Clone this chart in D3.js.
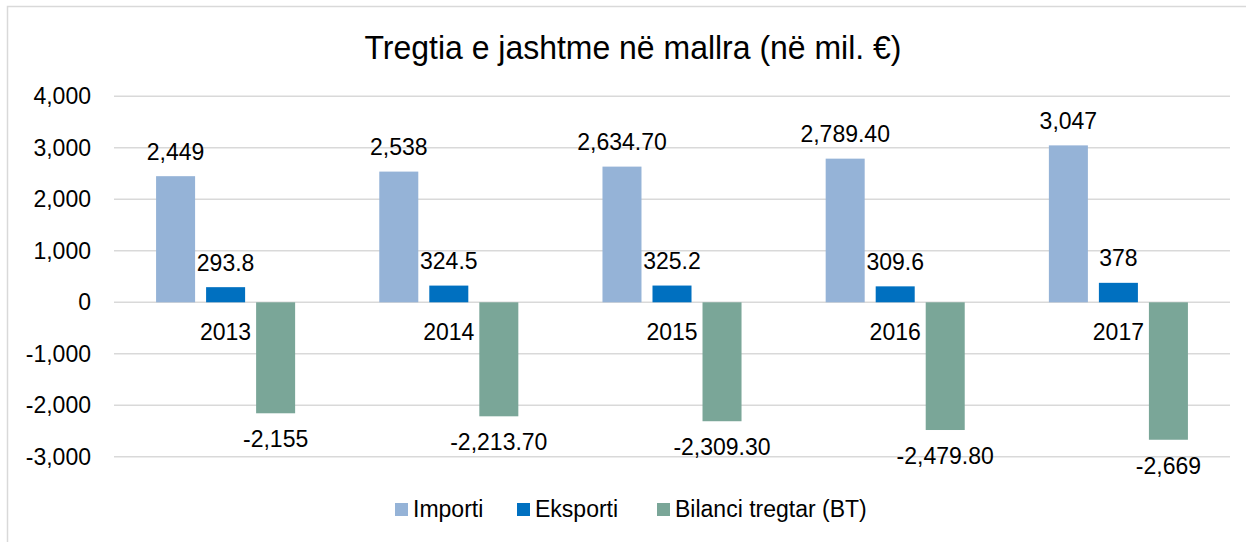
<!DOCTYPE html>
<html>
<head>
<meta charset="utf-8">
<script src="https://cdn.jsdelivr.net/npm/d3@7"></script>
<style>
  body { margin: 0; background: #fff; }
  text { font-family: "Liberation Sans", Arial, sans-serif; fill: #000; }
</style>
</head>
<body>
<div id="chart"></div>
<script>
const years = ['2013', '2014', '2015', '2016', '2017']
const series = ['Importi', 'Eksporti', 'Bilanci tregtar (BT)']
const importi = [2449, 2538, 2634.7, 2789.4, 3047]
const eksporti = [293.8, 324.5, 325.2, 309.6, 378]
const bilanci = [-2155, -2213.7, -2309.3, -2479.8, -2669]
const yTicks = [4000, 3000, 2000, 1000, 0, -1000, -2000, -3000]
const colors = ['#95b3d7', '#0070c0', '#7aa698']

window.onload = function () {
  const width = 1246
  const height = 542

  // plain hyphen for negatives, like the original
  const loc = d3.formatLocale({ decimal: '.', thousands: ',', grouping: [3], currency: ['', ''], minus: '-' })

  const svg = d3.select('#chart')
    .append('svg')
    .attr('width', width)
    .attr('height', height)

  // outer frame (only left + top visible in the crop)
  svg.append('rect')
    .attr('x', 7.5).attr('y', 6.5)
    .attr('width', 1260).attr('height', 560)
    .attr('fill', 'none')
    .attr('stroke', '#d9d9d9')
    .attr('stroke-width', 1.5)

  svg.append('text')
    .attr('x', 633).attr('y', 59)
    .attr('text-anchor', 'middle')
    .attr('textLength', 537)
    .attr('lengthAdjust', 'spacingAndGlyphs')
    .style('font-size', '33px')
    .text('Tregtia e jashtme në mallra (në mil. €)')

  const y = d3.scaleLinear().domain([-3000, 4000]).range([456.8, 96.3])

  const x0 = d3.scaleBand().domain(years).range([114, 1230])
    .paddingInner(0.377).paddingOuter(0.1885)
  const x1 = d3.scaleBand().domain(series).range([0, x0.bandwidth()])
    .paddingInner(0.22).paddingOuter(0)

  // gridlines
  svg.append('g').selectAll('line')
    .data(yTicks)
    .enter().append('line')
    .attr('x1', 114).attr('x2', 1230)
    .attr('y1', d => y(d)).attr('y2', d => y(d))
    .attr('stroke', '#d9d9d9')
    .attr('stroke-width', 1.5)

  const fmt = loc.format(',')
  svg.append('g').selectAll('text')
    .data(yTicks)
    .enter().append('text')
    .attr('x', 91)
    .attr('y', d => y(d) + 8)
    .attr('text-anchor', 'end')
    .style('font-size', '23px')
    .text(d => fmt(d))

  const big = d => Number.isInteger(d) ? loc.format(',')(d) : loc.format(',.2f')(d)
  const small = d => String(d)
  const all = [
    { vals: importi, f: big },
    { vals: eksporti, f: small },
    { vals: bilanci, f: big }
  ]

  all.forEach(function (s, i) {
    const g = svg.append('g')
    const rows = s.vals.map((v, j) => ({ year: years[j], v: v }))
    g.selectAll('rect')
      .data(rows)
      .enter().append('rect')
      .attr('x', d => x0(d.year) + x1(series[i]))
      .attr('width', x1.bandwidth())
      .attr('y', d => y(Math.max(0, d.v)))
      .attr('height', d => Math.abs(y(d.v) - y(0)))
      .attr('fill', colors[i])
    g.selectAll('text')
      .data(rows)
      .enter().append('text')
      .attr('x', d => x0(d.year) + x1(series[i]) + x1.bandwidth() / 2)
      .attr('y', d => d.v >= 0 ? y(d.v) - 16.5 : y(d.v) + 34)
      .attr('text-anchor', 'middle')
      .style('font-size', '23px')
      .text(d => s.f(d.v))
  })

  // category labels just below the zero line
  svg.append('g').selectAll('text')
    .data(years)
    .enter().append('text')
    .attr('x', d => x0(d) + x0.bandwidth() / 2)
    .attr('y', y(0) + 38)
    .attr('text-anchor', 'middle')
    .style('font-size', '23px')
    .text(d => d)

  // legend
  const legX = [395, 517, 657]
  const leg = svg.append('g').selectAll('g')
    .data(series)
    .enter().append('g')
    .attr('transform', (d, i) => 'translate(' + legX[i] + ',503)')
  leg.append('rect')
    .attr('width', 13).attr('height', 13)
    .attr('fill', (d, i) => colors[i])
  leg.append('text')
    .attr('x', 18).attr('y', 13.5)
    .style('font-size', '23px')
    .text(d => d)
}
</script>
</body>
</html>
